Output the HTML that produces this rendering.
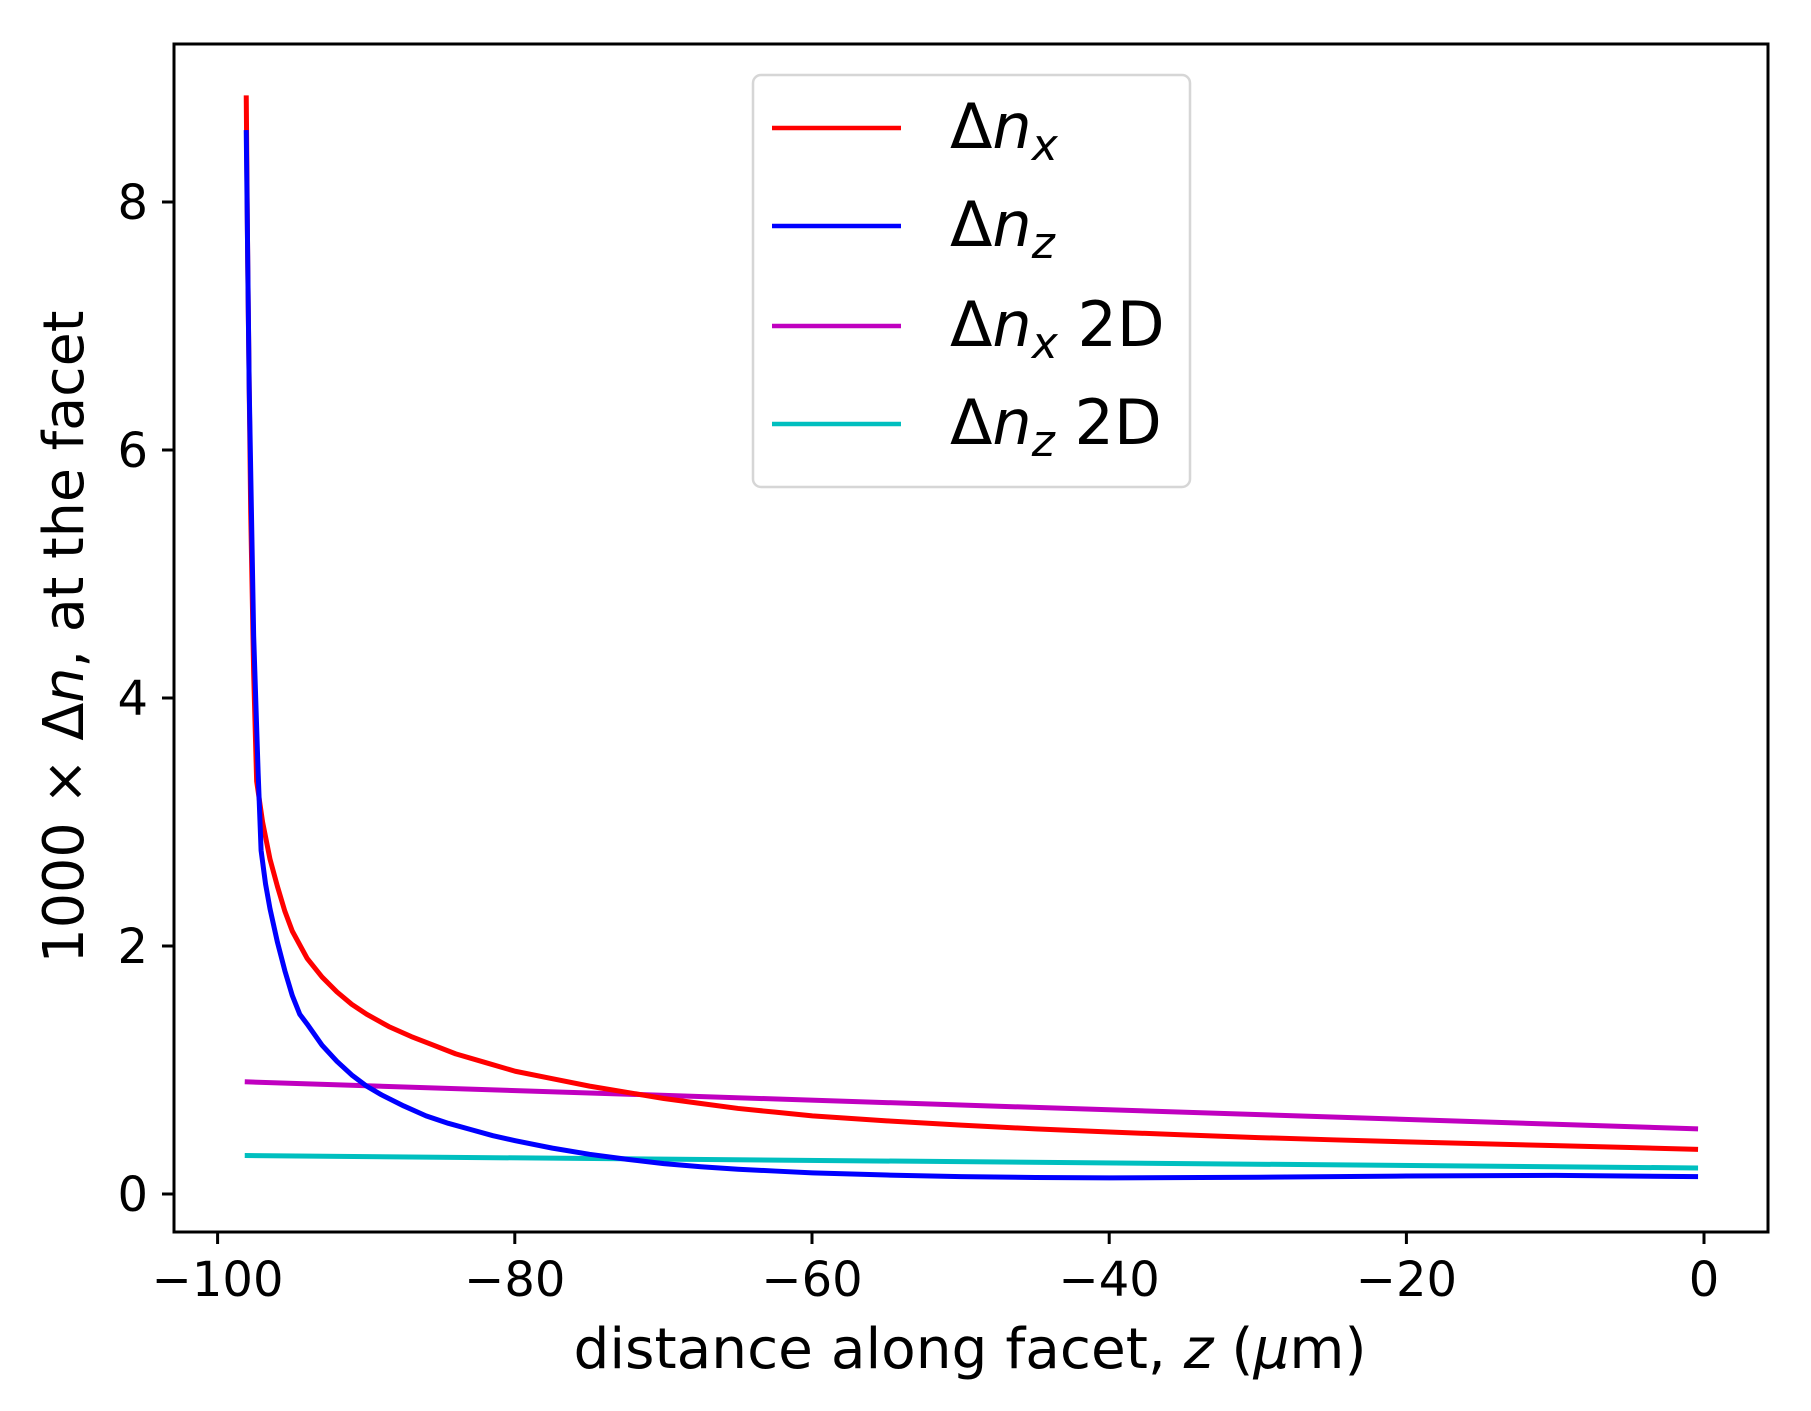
<!DOCTYPE html>
<html><head><meta charset="utf-8"><style>html,body{margin:0;padding:0;background:#fff}svg{display:block}</style></head>
<body>
<svg width="1811" height="1411" viewBox="0 0 1811 1411" xmlns="http://www.w3.org/2000/svg" font-family="'DejaVu Sans','Liberation Sans',sans-serif">
<rect width="1811" height="1411" fill="#fff"/>
<defs><clipPath id="c"><rect x="174" y="44" width="1594" height="1188"/></clipPath></defs>
<g clip-path="url(#c)" fill="none" stroke-width="5" stroke-linejoin="round">
<g transform="translate(1704,1194) scale(14.86,-124)">
<polyline vector-effect="non-scaling-stroke" stroke="#c000c0" points="-98.2,0.905 -0.4,0.525"/>
<polyline vector-effect="non-scaling-stroke" stroke="#00bfbf" points="-98.2,0.31 -0.4,0.21"/>
<polyline vector-effect="non-scaling-stroke" stroke="#ff0000" points="-98.1,8.86 -98.0,7.5 -97.8,5.5 -97.6,4.2 -97.4,3.33 -97,3.0 -96.5,2.7 -96,2.48 -95.5,2.28 -95,2.12 -94,1.9 -93,1.75 -92,1.63 -91,1.53 -90,1.45 -88.5,1.35 -87,1.27 -85.5,1.2 -84,1.13 -82,1.06 -80,0.99 -77.5,0.93 -75,0.87 -72.5,0.82 -70,0.77 -67.5,0.73 -65,0.69 -62.5,0.66 -60,0.63 -55,0.59 -50,0.555 -45,0.525 -40,0.5 -35,0.477 -30,0.455 -25,0.437 -20,0.42 -15,0.405 -10,0.39 -5,0.375 -0.4,0.36"/>
<polyline vector-effect="non-scaling-stroke" stroke="#0000ff" points="-98.1,8.58 -97.9,6.5 -97.6,4.5 -97.3,3.4 -97.1,2.77 -96.8,2.5 -96.5,2.3 -96,2.03 -95.5,1.8 -95,1.6 -94.5,1.45 -94,1.37 -93,1.2 -92,1.07 -91,0.96 -90,0.87 -89,0.8 -87.5,0.71 -86,0.63 -84.5,0.57 -83,0.52 -81.5,0.47 -80,0.43 -77.5,0.37 -75,0.32 -72.5,0.28 -70,0.245 -67.5,0.22 -65,0.2 -62.5,0.185 -60,0.17 -55,0.153 -50,0.14 -45,0.133 -40,0.13 -30,0.135 -20,0.145 -10,0.15 -0.4,0.14"/>
</g>
</g>
<rect x="174" y="44" width="1594" height="1188" fill="none" stroke="#000" stroke-width="3"/>
<g stroke="#000" stroke-width="3">
<line x1="217.6" y1="1232" x2="217.6" y2="1244"/><line x1="514.8" y1="1232" x2="514.8" y2="1244"/><line x1="812" y1="1232" x2="812" y2="1244"/><line x1="1109.2" y1="1232" x2="1109.2" y2="1244"/><line x1="1406.4" y1="1232" x2="1406.4" y2="1244"/><line x1="1704" y1="1232" x2="1704" y2="1244"/>
<line x1="162" y1="1194" x2="174" y2="1194"/><line x1="162" y1="946" x2="174" y2="946"/><line x1="162" y1="698" x2="174" y2="698"/><line x1="162" y1="450" x2="174" y2="450"/><line x1="162" y1="202" x2="174" y2="202"/>
</g>
<g font-size="48" fill="#000" text-anchor="middle">
<text x="217.6" y="1296">−100</text><text x="514.8" y="1296">−80</text><text x="812" y="1296">−60</text><text x="1109.2" y="1296">−40</text><text x="1406.4" y="1296">−20</text><text x="1704" y="1296">0</text>
</g>
<g font-size="48" fill="#000" text-anchor="end">
<text x="148" y="1211">0</text><text x="148" y="963">2</text><text x="148" y="715">4</text><text x="148" y="467">6</text><text x="148" y="219">8</text>
</g>
<text x="970" y="1368" font-size="56" text-anchor="middle" textLength="793" lengthAdjust="spacingAndGlyphs">distance along facet, <tspan font-style="italic">z</tspan> (<tspan font-style="italic">μ</tspan>m)</text>
<text transform="translate(83,637) rotate(-90)" font-size="56" text-anchor="middle" textLength="653" lengthAdjust="spacingAndGlyphs">1000 × Δ<tspan font-style="italic">n</tspan>, at the facet</text>
<rect x="753" y="75" width="437" height="412" rx="8" fill="#fff" fill-opacity="0.8" stroke="#d6d6d6" stroke-width="2.5"/>
<g stroke-width="4.5">
<line x1="772" y1="128" x2="901" y2="128" stroke="#ff0000"/>
<line x1="772" y1="226" x2="901" y2="226" stroke="#0000ff"/>
<line x1="772" y1="326" x2="901" y2="326" stroke="#c000c0"/>
<line x1="772" y1="424" x2="901" y2="424" stroke="#00bfbf"/>
</g>
<g font-size="62" fill="#000">
<text x="950" y="148">Δ<tspan font-style="italic">n</tspan><tspan font-style="italic" font-size="44" dy="12">x</tspan></text>
<text x="950" y="246">Δ<tspan font-style="italic">n</tspan><tspan font-style="italic" font-size="44" dy="12">z</tspan></text>
<text x="950" y="346">Δ<tspan font-style="italic">n</tspan><tspan font-style="italic" font-size="44" dy="12">x</tspan><tspan dy="-12"> 2D</tspan></text>
<text x="950" y="444">Δ<tspan font-style="italic">n</tspan><tspan font-style="italic" font-size="44" dy="12">z</tspan><tspan dy="-12"> 2D</tspan></text>
</g>
</svg>
</body></html>
